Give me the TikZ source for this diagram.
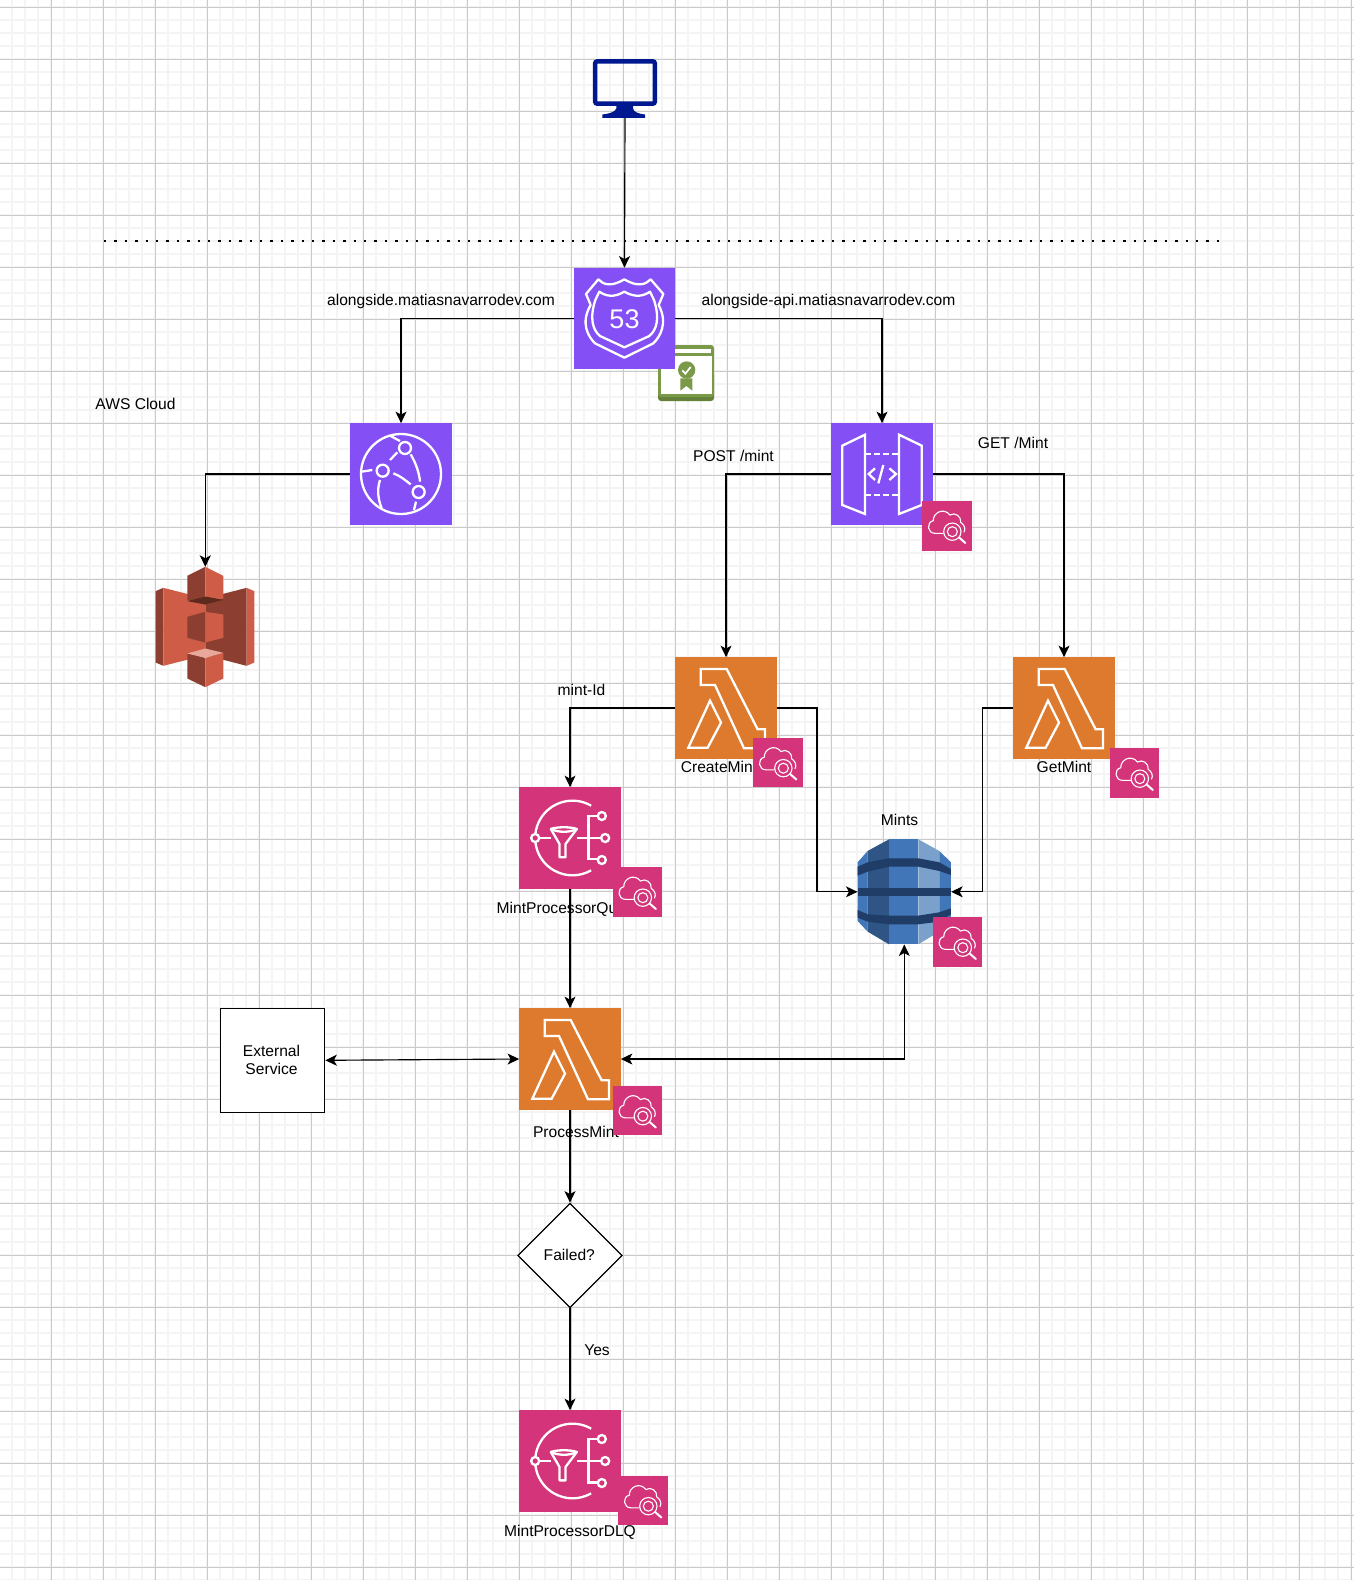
\documentclass[tikz,border=0pt]{standalone}
\usepackage{fontspec}
\setmainfont{Liberation Sans}
\usepackage{tikz}
\usetikzlibrary{arrows.meta,shapes.geometric}

\definecolor{netpurple}{HTML}{8450F5}
\definecolor{computeorange}{HTML}{DE7A2D}
\definecolor{watchpink}{HTML}{D4357A}
\definecolor{certgreen}{HTML}{7A9A4A}
\definecolor{certdark}{HTML}{64803A}
\definecolor{screenblue}{HTML}{00188F}
\definecolor{gridmajor}{HTML}{CACACA}
\definecolor{gridminor}{HTML}{F4F4F4}
\definecolor{bucketlight}{HTML}{CF5C47}
\definecolor{bucketdark}{HTML}{8C3F30}
\definecolor{bucketdeep}{HTML}{5E2A1E}
\definecolor{bucketpale}{HTML}{E8A89B}
\definecolor{tablemid}{HTML}{4176B8}
\definecolor{tabledark}{HTML}{2E5585}
\definecolor{tablelight}{HTML}{7AA0CC}
\definecolor{tablestripe}{HTML}{1F3D66}

\tikzset{
  >={Stealth[length=11.5pt,width=11pt,inset=3pt]},
  every edge/.append style={line width=1.15pt},
  flow/.style={line width=1.15pt},
  hv/.style={to path={-| (\tikztotarget)}},
  lbl/.style={font=\fontsize{15.6}{18.2}\selectfont,inner sep=0pt,align=center},
  iconbox/.style={rectangle,minimum size=101.4pt,inner sep=0pt},
  badgebox/.style={rectangle,minimum size=49.4pt,inner sep=0pt,fill=watchpink},
  zoomed/.style={scale=0.33333},
  glyph/.style={draw=white,line width=2.3pt,line join=miter},
  lambdamark/.pic={
    \draw[glyph,shift={(-183,-174)}] (107,57) -- (185,57) -- (278,238) -- (300,238) -- (300,295)
      -- (237,295) -- (150,105) -- (107,105) -- cycle;
    \draw[glyph,shift={(-183,-174)}] (135,152) -- (168,218) -- (128,293) -- (70,293) -- cycle;
  },
  shieldmark/.pic={
    \draw[glyph,line join=round,shift={(-193.5,-190.5)}] (115,73) .. controls (130,88) and (150,98) .. (193,73)
      .. controls (235,98) and (257,88) .. (272,73) -- (310,117) -- (296,150)
      .. controls (325,205) and (300,245) .. (280,265) -- (193,308) -- (105,265)
      .. controls (85,245) and (60,205) .. (92,150) -- (78,117) -- cycle;
    \draw[glyph,line join=round,shift={(-193.5,-190.5)}] (118,110) .. controls (135,122) and (160,130) .. (193,110)
      .. controls (228,130) and (252,122) .. (270,110) -- (282,135)
      .. controls (300,190) and (290,225) .. (268,243) -- (193,277) -- (120,243)
      .. controls (98,225) and (88,190) .. (106,135) -- cycle;
  },
  globemark/.pic={
    \begin{scope}[shift={(-183,-177)}]
      \draw[glyph] (183,177) circle (120);
      \draw[glyph] (150,135) -- (172,112);
      \draw[glyph] (160,175) .. controls (180,182) and (195,195) .. (212,208);
      \draw[glyph] (212,118) .. controls (228,145) and (238,175) .. (240,200);
      \draw[glyph] (120,195) .. controls (110,225) and (115,255) .. (125,280);
      \draw[glyph] (65,170) -- (97,165);
      \draw[glyph] (150,62) -- (180,78);
      \draw[glyph] (228,260) -- (222,285);
      \draw[glyph,fill=netpurple] (195,99) circle (18);
      \draw[glyph,fill=netpurple] (128,167) circle (18);
      \draw[glyph,fill=netpurple] (236,231) circle (18);
    \end{scope}
  },
  gatemark/.pic={
    \begin{scope}[shift={(-186,-177)}]
      \draw[glyph] (67,92) -- (135,59) -- (135,297) -- (67,270) -- cycle;
      \draw[glyph] (237,59) -- (305,92) -- (305,270) -- (237,297) -- cycle;
      \draw[glyph,dash pattern=on 6pt off 3pt] (135,118) -- (237,118);
      \draw[glyph,dash pattern=on 6pt off 3pt] (135,240) -- (237,240);
      \draw[glyph] (165,160) -- (146,177) -- (165,195);
      \draw[glyph] (208,160) -- (228,177) -- (208,195);
      \draw[glyph] (190,150) -- (175,205);
    \end{scope}
  },
  funnelmark/.pic={
    \begin{scope}[shift={(-179.5,-174)}]
      \draw[glyph] (243,77) arc[start angle=-60,end angle=-300,radius=112];
      \draw[glyph] (86,174) -- (122,174);
      \draw[glyph,line join=round] (122,147) .. controls (140,140) and (182,140) .. (200,147)
        -- (166,192) -- (166,232) -- (148,232) -- (148,192) -- cycle;
      \draw[glyph] (122,147) .. controls (145,158) and (178,158) .. (200,147);
      \draw[glyph] (200,174) -- (272,174);
      \draw[glyph] (262,108) -- (235,108) -- (235,238) -- (262,238);
      \draw[glyph,fill=watchpink] (75,174) circle (12);
      \draw[glyph,fill=watchpink] (285,174) circle (12);
      \draw[glyph,fill=watchpink] (275,108) circle (12);
      \draw[glyph,fill=watchpink] (275,240) circle (12);
    \end{scope}
  },
  watchmark/.pic={
    \begin{scope}[shift={(-381,-333)}]
      \draw[glyph,line width=1.1pt,line join=round] (370,355) -- (345,355) .. controls (322,355) and (318,322) .. (340,317)
        .. controls (338,295) and (370,275) .. (390,300) .. controls (405,290) and (425,305) .. (422,322)
        .. controls (432,328) and (438,340) .. (432,352);
      \draw[glyph,line width=1.1pt,fill=watchpink] (397,350) circle (26);
      \draw[glyph,line width=1.1pt] (397,350) circle (15);
      \draw[glyph,line width=2pt,line cap=round] (418,368) -- (436,384);
    \end{scope}
  },
  screenmark/.pic={
    \begin{scope}[shift={(-256,-176)}]
      \draw[screenblue,line width=4.4pt,rounded corners=2pt] (166.5,94.5) rectangle (345.5,221.5);
      \fill[screenblue] (230,225) -- (280,225) -- (280,236) .. controls (282,248) and (300,252) .. (316,254)
        -- (316,264) -- (188,264) -- (188,254) .. controls (205,252) and (226,248) .. (230,236) -- cycle;
    \end{scope}
  },
  certmark/.pic={
    \begin{scope}[shift={(-378,-354)}]
      \fill[certdark,rounded corners=3pt] (294,350) rectangle (462,438);
      \fill[certgreen,rounded corners=3pt] (294,270) rectangle (462,426);
      \fill[white] (302,303) rectangle (456,418);
      \fill[white] (346,283) rectangle (452,295);
      \fill[certgreen] (361,370) -- (397,370) -- (397,407) -- (379,393) -- (361,407) -- cycle;
      \fill[certgreen] (380,345) circle (26);
      \draw[white,line width=1.7pt] (367,346) -- (376,356) -- (392,336);
    \end{scope}
  },
  bucketmark/.pic={
    \begin{scope}[shift={(-181,-215.5)}]
      \fill[bucketdark] (32,108) -- (55,98) -- (55,332) -- (32,322) -- cycle;
      \fill[bucketlight] (55,98) -- (181,130) -- (181,300) -- (55,332) -- cycle;
      \fill[bucketdark] (305,98) -- (181,130) -- (181,300) -- (305,332) -- cycle;
      \fill[bucketlight] (305,98) -- (328,108) -- (328,322) -- (305,332) -- cycle;
      \fill[bucketdark] (127,62) -- (181,35) -- (181,148) -- (127,135) -- cycle;
      \fill[bucketlight] (181,35) -- (235,62) -- (235,130) -- (181,148) -- cycle;
      \fill[bucketdeep] (127,138) -- (181,124) -- (235,134) -- (181,148) -- cycle;
      \fill[bucketdark] (127,185) -- (181,170) -- (181,262) -- (127,248) -- cycle;
      \fill[bucketlight] (181,170) -- (235,178) -- (235,248) -- (181,262) -- cycle;
      \fill[bucketdark] (127,295) -- (181,308) -- (181,396) -- (127,370) -- cycle;
      \fill[bucketlight] (181,308) -- (235,293) -- (235,370) -- (181,396) -- cycle;
      \fill[bucketpale] (127,295) -- (181,280) -- (235,293) -- (181,308) -- cycle;
    \end{scope}
  },
  tablemark/.pic={
    \begin{scope}[shift={(-178,-200.5)}]
      \fill[tablemid] (38,112) -- (68,78) -- (68,320) -- (38,288) -- cycle;
      \fill[tabledark] (68,78) -- (132,43) -- (132,358) -- (68,320) -- cycle;
      \fill[tablemid] (132,43) -- (220,43) -- (220,358) -- (132,358) -- cycle;
      \fill[tablelight] (220,43) -- (283,78) -- (283,320) -- (220,358) -- cycle;
      \fill[tablemid] (283,78) -- (318,112) -- (318,288) -- (283,320) -- cycle;
      \fill[tablestripe] (38,125) -- (68,112) -- (132,100) -- (220,100) -- (283,112) -- (318,132)
        -- (318,150) -- (283,138) -- (220,125) -- (132,125) -- (68,140) -- (38,152) -- cycle;
      \fill[tablestripe] (38,190) rectangle (318,212);
      \fill[tablestripe] (38,255) -- (68,268) -- (132,272) -- (220,272) -- (283,262) -- (318,250)
        -- (318,268) -- (283,290) -- (220,298) -- (132,298) -- (68,290) -- (38,278) -- cycle;
    \end{scope}
  }
}

\newcommand{\watchbadge}[2]{
  \node[badgebox](#1) at #2 {};
  \pic[zoomed] at (#1) {watchmark};
}

\begin{document}
\begin{tikzpicture}[x=1pt,y=-1pt]
\useasboundingbox (0,0) rectangle (1354,1580);
\fill[white] (0,0) rectangle (1354,1580);

% grid
\foreach \i in {0,...,104} \draw[gridminor,line width=1.8pt] ({-0.7+13*\i},0) -- ({-0.7+13*\i},1580);
\foreach \i in {0,...,121} \draw[gridminor,line width=1.8pt] (0,{7.3+13*\i}) -- (1354,{7.3+13*\i});
\foreach \i in {0,...,25} \draw[gridmajor,line width=1pt] ({51.3+52*\i},0) -- ({51.3+52*\i},1580);
\foreach \i in {0,...,30} \draw[gridmajor,line width=1pt] (0,{7.3+52*\i}) -- (1354,{7.3+52*\i});

% boundary
\coordinate (cloudleft) at (104,241);
\coordinate (cloudright) at (1219,241);
\draw[line width=2.2pt,dash pattern=on 2.4pt off 8pt] (cloudleft) -- (cloudright);

% user
\node[rectangle,minimum width=64pt,minimum height=59pt,inner sep=0pt](user) at (625,88.5) {};
\pic[zoomed] at (user) {screenmark};

% certificate sits under the dns box
\node[rectangle,minimum width=56pt,minimum height=56pt,inner sep=0pt](cert) at (686,373) {};
\pic[zoomed] at (cert) {certmark};

\node[iconbox,fill=netpurple](dns) at (624.5,318.5) {};
\pic[zoomed] at (dns) {shieldmark};
\node[font=\fontsize{27}{27}\selectfont,text=white,inner sep=0pt](dnsnum) at (624.5,319.5) {53};

\node[iconbox,fill=netpurple](cdn) at (401,474) {};
\pic[zoomed] at (cdn) {globemark};

\node[iconbox,fill=netpurple](api) at (882,474) {};
\pic[zoomed] at (api) {gatemark};

\node[rectangle,minimum width=99pt,minimum height=120pt,inner sep=0pt](bucket) at (205.3,627) {};
\pic[zoomed] at (bucket) {bucketmark};

\node[iconbox,fill=computeorange](createfn) at (726,708) {};
\pic[zoomed] at (createfn) {lambdamark};

\node[iconbox,fill=computeorange](getfn) at (1064,708) {};
\pic[zoomed] at (getfn) {lambdamark};

\node[iconbox,fill=watchpink](queue) at (570,838) {};
\pic[zoomed] at (queue) {funnelmark};

\node[rectangle,minimum width=93.3pt,minimum height=105pt,inner sep=0pt](table) at (904.3,891.8) {};
\pic[zoomed] at (table) {tablemark};

\node[iconbox,fill=computeorange](processfn) at (570,1059) {};
\pic[zoomed] at (processfn) {lambdamark};

\node[rectangle,draw,fill=white,line width=1.3pt,minimum width=104.4pt,minimum height=104pt,inner sep=0pt,lbl](ext) at (272.5,1060.3) {};
\node[lbl](extlbl) at (271.5,1060.3) {External\\Service};

\node[diamond,aspect=1,draw,fill=white,line width=1.3pt,minimum size=104.5pt,inner sep=0pt](failed) at (570,1255.5) {};
\node[lbl](failedlbl) at (569.3,1255.3) {Failed?};

\node[iconbox,fill=watchpink](dlq) at (570,1461) {};
\pic[zoomed] at (dlq) {funnelmark};

\coordinate (createturn) at (817,708);
\coordinate (getturn) at (982.5,708);

\path (user.south) edge [->] (dns.north);
\path (dns.west) edge [->,hv] (cdn.north);
\path (dns.east) edge [->,hv] (api.north);
\path (cdn.west) edge [->,hv] (bucket.north);
\path (api.west) edge [->,hv] (createfn.north);
\path (api.east) edge [->,hv] (getfn.north);
\path (createfn.west) edge [->,hv] (queue.north);
\draw[flow,->] (createfn.east) -- (createturn) |- (table.west);
\draw[flow,->] (getfn.west) -- (getturn) |- (table.east);
\path (queue.south) edge [->] (processfn.north);
\path (ext.east) edge [<->] (processfn.west);
\path (processfn.east) edge [<->,hv] (table.south);
\path (processfn.south) edge [->] (failed.north);
\path (failed.south) edge [->] (dlq.north);

\node[lbl](sitelbl) at (441,301.5) {alongside.matiasnavarrodev.com};
\node[lbl](apilbl) at (828.5,301.5) {alongside-api.matiasnavarrodev.com};
\node[lbl](cloudlbl) at (135.5,404) {AWS Cloud};
\node[lbl](postlbl) at (733.5,455.5) {POST /mint};
\node[lbl](getlbl) at (1013,442.5) {GET /Mint};
\node[lbl](idlbl) at (581.5,689.5) {mint-Id};
\node[lbl](createlbl) at (719,767) {CreateMint};
\node[lbl](getfnlbl) at (1064,767) {GetMint};
\node[lbl](tablelbl) at (899.6,819.5) {Mints};
\node[lbl](queuelbl) at (570,909.5) {MintProcessorQueue};
\node[lbl](processlbl) at (576,1132) {ProcessMint};
\node[lbl](yeslbl) at (597,1350.5) {Yes};
\node[lbl](dlqlbl) at (570,1532.5) {MintProcessorDLQ};

% badges go on top of the labels
\watchbadge{apiw}{(947,526)}
\watchbadge{createw}{(778,762.5)}
\watchbadge{getw}{(1134.5,773)}
\watchbadge{queuew}{(637.5,892)}
\watchbadge{tablew}{(957.5,942)}
\watchbadge{processw}{(637.5,1110.5)}
\watchbadge{dlqw}{(643,1500.5)}
\end{tikzpicture}
\end{document}
